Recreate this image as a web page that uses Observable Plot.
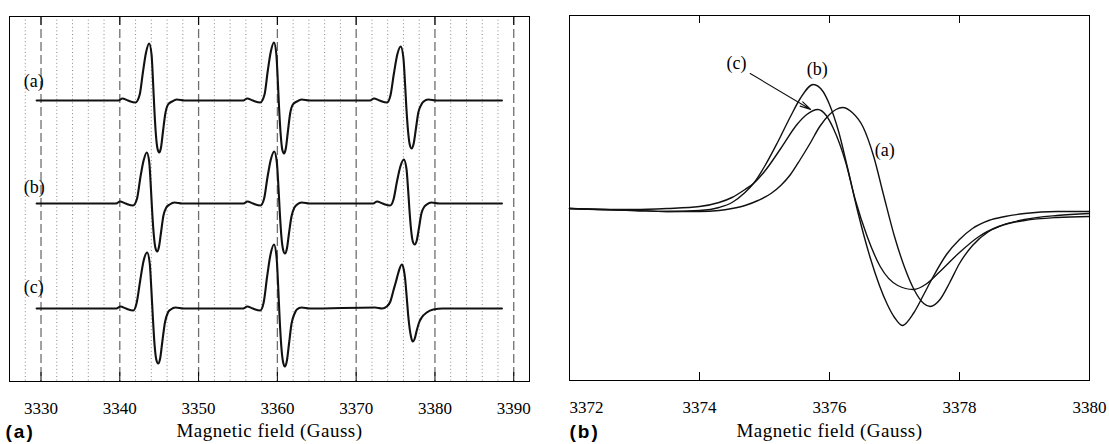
<!DOCTYPE html>
<html><head><meta charset="utf-8">
<script src="https://cdn.jsdelivr.net/npm/d3@7"></script>
<script src="https://cdn.jsdelivr.net/npm/@observablehq/plot@0.6"></script>
<style>
body{margin:0;background:#fff;}
#wrap{position:relative;width:1109px;height:444px;overflow:hidden;}
#left{position:absolute;left:0;top:0;width:545px;}
#right{position:absolute;left:545px;top:0;width:564px;}
</style></head><body><div id="wrap"><div id="left"></div><div id="right"></div></div>
<script>
// ---------- data: panel (a), full spectra (field in Gauss, intensity in arbitrary units) ----------
const traceNames = ["(a)", "(b)", "(c)"];
const traceOffsets = [281, 178, 73];
const traceLabelLift = [19, 16, 21];

const spectrumA = [
[3329.45,0],[3339.83,0],[3340.33,2],[3341.03,0],[3341.98,-2],[3342.53,6],[3342.93,28],[3343.33,48],[3343.73,57],[3344.03,46],[3344.23,17],[3344.38,-8],[3344.58,-34],[3344.78,-48],[3345.0,-52],[3345.23,-47],[3345.48,-31],[3345.78,-13],[3346.13,-4],[3346.63,-1],[3347.23,1],[3348.23,0],
[3355.67,0],[3356.17,2],[3356.87,0],[3357.82,-2],[3358.37,6],[3358.77,29],[3359.17,49],[3359.57,58],[3359.87,46],[3360.07,17],[3360.22,-8],[3360.42,-34],[3360.62,-49],[3360.84,-53],[3361.07,-48],[3361.32,-32],[3361.62,-13],[3361.97,-4],[3362.47,-1],[3363.07,1],[3364.07,0],
[3371.76,0],[3372.26,2],[3372.96,0],[3373.91,-2],[3374.35,5],[3374.79,27],[3375.22,46],[3375.66,54],[3375.99,43],[3376.21,16],[3376.37,-7],[3376.59,-31],[3376.8,-44],[3377.04,-48],[3377.3,-43],[3377.57,-29],[3377.89,-12],[3378.28,-4],[3378.56,-1],[3379.16,1],[3380.16,0],[3388.5,0]];

const spectrumB = [
[3329.45,0],[3339.53,0],[3340.03,2],[3340.73,0],[3341.68,-2],[3342.19,5],[3342.61,26],[3343.02,43],[3343.43,51],[3343.74,41],[3343.95,15],[3344.1,-7],[3344.31,-31],[3344.51,-44],[3344.74,-48],[3344.98,-43],[3345.23,-29],[3345.54,-12],[3345.9,-4],[3346.33,-1],[3346.93,1],[3347.93,0],
[3355.7,0],[3356.2,2],[3356.9,0],[3357.85,-2],[3358.32,5],[3358.74,26],[3359.17,44],[3359.6,52],[3359.92,42],[3360.14,16],[3360.3,-8],[3360.51,-33],[3360.72,-46],[3360.96,-50],[3361.21,-45],[3361.47,-30],[3361.79,-13],[3362.17,-4],[3362.5,-1],[3363.1,1],[3364.1,0],
[3372.15,0],[3372.65,2],[3373.35,0],[3374.3,-2],[3374.74,4],[3375.18,22],[3375.61,37],[3376.05,44],[3376.38,35],[3376.6,13],[3376.76,-6],[3376.98,-27],[3377.19,-38],[3377.43,-41],[3377.69,-37],[3377.96,-25],[3378.28,-10],[3378.67,-3],[3378.95,-1],[3379.55,1],[3380.55,0],[3388.5,0]];

const spectrumC = [
[3329.45,0],[3339.57,0],[3340.07,2],[3340.77,0],[3341.72,-2],[3342.15,6],[3342.59,28],[3343.03,48],[3343.47,56],[3343.8,45],[3344.02,17],[3344.19,-8],[3344.41,-36],[3344.63,-51],[3344.87,-55],[3345.12,-50],[3345.4,-33],[3345.73,-14],[3346.11,-4],[3346.47,-1],[3347.07,1],[3348.07,0],
[3355.67,0],[3356.17,2],[3356.87,0],[3357.82,-2],[3358.26,6],[3358.7,32],[3359.13,54],[3359.57,64],[3359.9,51],[3360.12,19],[3360.28,-9],[3360.5,-38],[3360.71,-53],[3360.95,-58],[3361.21,-52],[3361.48,-35],[3361.8,-15],[3362.19,-5],[3362.47,-1],[3363.07,1],[3364.07,0],
[3372.39,1],[3373.29,0],[3373.89,2],[3374.34,7],[3374.73,18],[3375.09,28],[3375.36,36],[3375.79,44],[3376.04,39],[3376.21,30],[3376.42,11],[3376.63,-9],[3376.93,-27],[3377.18,-33],[3377.44,-30],[3377.69,-22],[3377.99,-14],[3378.32,-9],[3378.96,-4],[3379.79,-1],[3381,0],[3388.5,0]];

const leftTicks = [3330, 3340, 3350, 3360, 3370, 3380, 3390];
const leftDotted = [3328,3332,3334,3336,3338,3342,3344,3346,3348,3352,3354,3356,3358,3362,3364,3366,3368,3372,3374,3376,3378,3382,3384,3386,3388];

// ---------- data: panel (b), zoom on the high-field line ----------
const zoomA = [[3372.0,0],[3372.5,-1],[3373.0,-2],[3373.5,-3],[3374.0,-3],[3374.3,-2],[3374.5,0],[3374.7,3],[3374.9,8],[3375.1,15],[3375.25,23],[3375.4,34],[3375.55,49],[3375.7,65],[3375.85,82],[3376.0,94],[3376.1,99],[3376.2,101],[3376.35,96],[3376.52,81],[3376.68,52],[3376.83,14],[3377.0,-28],[3377.15,-58],[3377.3,-81],[3377.45,-95],[3377.55,-98],[3377.7,-91],[3377.85,-74],[3378.0,-55],[3378.2,-37],[3378.45,-23],[3378.7,-16],[3379.0,-12],[3379.5,-9],[3380.0,-8]];
const zoomB = [[3372.0,0],[3372.5,-1],[3373.0,-2],[3373.5,-3],[3374.0,-2],[3374.3,1],[3374.5,6],[3374.7,16],[3374.83,25],[3375.0,42],[3375.2,66],[3375.4,92],[3375.55,110],[3375.75,124],[3375.9,117],[3376.0,104],[3376.14,77],[3376.28,40],[3376.43,-2],[3376.63,-50],[3376.89,-96],[3377.0,-109],[3377.12,-117],[3377.3,-104],[3377.45,-86],[3377.58,-70],[3377.8,-46],[3378.0,-31],[3378.2,-20],[3378.45,-12],[3378.7,-8],[3379.0,-5],[3379.5,-3],[3380.0,-3]];
const zoomC = [[3372.0,0],[3372.5,-1],[3373.0,-1],[3373.5,0],[3374.0,2],[3374.3,6],[3374.5,11],[3374.7,19],[3374.83,25],[3375.0,37],[3375.25,60],[3375.5,84],[3375.65,94],[3375.82,99],[3375.95,93],[3376.06,80],[3376.25,46],[3376.4,8],[3376.58,-28],[3376.78,-58],[3377.05,-77],[3377.29,-81],[3377.5,-75],[3377.7,-63],[3378.0,-44],[3378.3,-28],[3378.6,-18],[3379.0,-11],[3379.5,-7],[3380.0,-5]];
const rightTicks = [3372, 3374, 3376, 3378, 3380];
const rightLabels = [
  {text: "(c)", field: 3374.57, value: 145},
  {text: "(b)", field: 3375.81, value: 139},
  {text: "(a)", field: 3376.85, value: 58}
];
const arrowC = [{x1: 3374.78, y1: 135, x2: 3375.71, y2: 99}];

// ---------- build ----------
const serif = "Liberation Serif, Times New Roman, serif";
const sans = "Liberation Sans, Arial, sans-serif";
const spectra = [spectrumA, spectrumB, spectrumC];
const leftRows = traceNames.flatMap((name, i) => spectra[i].map(([f, v]) => ({field: f, value: traceOffsets[i] + v, name})));
const leftLabelRows = traceNames.map((name, i) => ({name, field: 3327.8, value: traceOffsets[i] + traceLabelLift[i]}));

function finish(svg) {
  svg.querySelectorAll("text").forEach(t => {
    const s = t.textContent;
    if (s === "Magnetic field (Gauss)") t.setAttribute("letter-spacing", "0.5");
    if ((s === "(a)" || s === "(b)") && t.closest("g") && t.closest("g").getAttribute("font-weight") === "bold") t.setAttribute("letter-spacing", "2");
  });
  return svg;
}

const left = Plot.plot({
  width: 545, height: 444,
  marginLeft: 9, marginRight: 16, marginTop: 16, marginBottom: 63,
  x: {domain: [3326, 3392], axis: null},
  y: {domain: [0, 365], axis: null},
  style: {fontFamily: serif, fontSize: "17px", color: "#000", background: "#fff", overflow: "visible"},
  marks: [
    Plot.ruleX(leftDotted, {stroke: "#8a8a8a", strokeDasharray: "1,2.6", strokeWidth: 1}),
    Plot.ruleX(leftTicks, {stroke: "#6f6f6f", strokeDasharray: "9,4", strokeWidth: 1.3}),
    Plot.ruleX(leftTicks, {stroke: "#000", insetTop: 356}),
    Plot.ruleX(leftTicks, {stroke: "#000", insetBottom: 356}),
    Plot.line(leftRows, {x: "field", y: "value", z: "name", stroke: "#111", strokeWidth: 2.1, curve: "monotone-x"}),
    Plot.text(leftLabelRows, {x: "field", y: "value", text: "name", textAnchor: "start", fontFamily: serif, fontSize: 18, fill: "#000"}),
    Plot.axisX({anchor: "bottom", ticks: leftTicks, tickSize: 0, tickPadding: 20, tickFormat: d => String(d), fontFamily: serif, fontSize: 17, label: null}),
    Plot.frame({stroke: "#000", strokeWidth: 1}),
    Plot.text(["(a)"], {text: d => d, frameAnchor: "bottom-left", dx: -4, dy: 56, textAnchor: "start", fontFamily: sans, fontWeight: "bold", fontSize: 19, fill: "#000"}),
    Plot.text(["Magnetic field (Gauss)"], {text: d => d, frameAnchor: "bottom", dy: 55, fontFamily: serif, fontSize: 19, fill: "#000"})
  ]
});
document.getElementById("left").append(finish(left));

const zoomNames = ["(a)", "(b)", "(c)"];
const zooms = [zoomA, zoomB, zoomC];
const rightRows = zoomNames.flatMap((name, i) => zooms[i].map(([f, v]) => ({field: f, value: v, name})));

const right = Plot.plot({
  width: 564, height: 444,
  marginLeft: 24, marginRight: 20, marginTop: 15, marginBottom: 64,
  x: {domain: [3372, 3380], axis: null},
  y: {domain: [-172, 193], axis: null},
  style: {fontFamily: serif, fontSize: "17px", color: "#000", background: "#fff", overflow: "visible"},
  marks: [
    Plot.ruleX(rightTicks, {stroke: "#000", insetTop: 357}),
    Plot.ruleX(rightTicks, {stroke: "#000", insetBottom: 357}),
    Plot.line(rightRows, {x: "field", y: "value", z: "name", stroke: "#111", strokeWidth: 1.4, curve: "monotone-x"}),
    Plot.arrow(arrowC, {x1: "x1", y1: "y1", x2: "x2", y2: "y2", stroke: "#111", strokeWidth: 1.1, headLength: 15, headAngle: 26}),
    Plot.text(rightLabels, {x: "field", y: "value", text: "text", fontFamily: serif, fontSize: 18, fill: "#000"}),
    Plot.axisX({anchor: "bottom", ticks: rightTicks.slice(1), tickSize: 0, tickPadding: 20, tickFormat: d => String(d), fontFamily: serif, fontSize: 17, label: null}),
    Plot.axisX({anchor: "bottom", ticks: rightTicks.slice(0, 1), tickSize: 0, tickPadding: 20, tickFormat: d => String(d), textAnchor: "start", fontFamily: serif, fontSize: 17, label: null}),
    Plot.frame({stroke: "#000", strokeWidth: 1}),
    Plot.text(["(b)"], {text: d => d, frameAnchor: "bottom-left", dx: 0, dy: 57, textAnchor: "start", fontFamily: sans, fontWeight: "bold", fontSize: 19, fill: "#000"}),
    Plot.text(["Magnetic field (Gauss)"], {text: d => d, frameAnchor: "bottom", dy: 56, fontFamily: serif, fontSize: 19, fill: "#000"})
  ]
});
document.getElementById("right").append(finish(right));
</script></body></html>
